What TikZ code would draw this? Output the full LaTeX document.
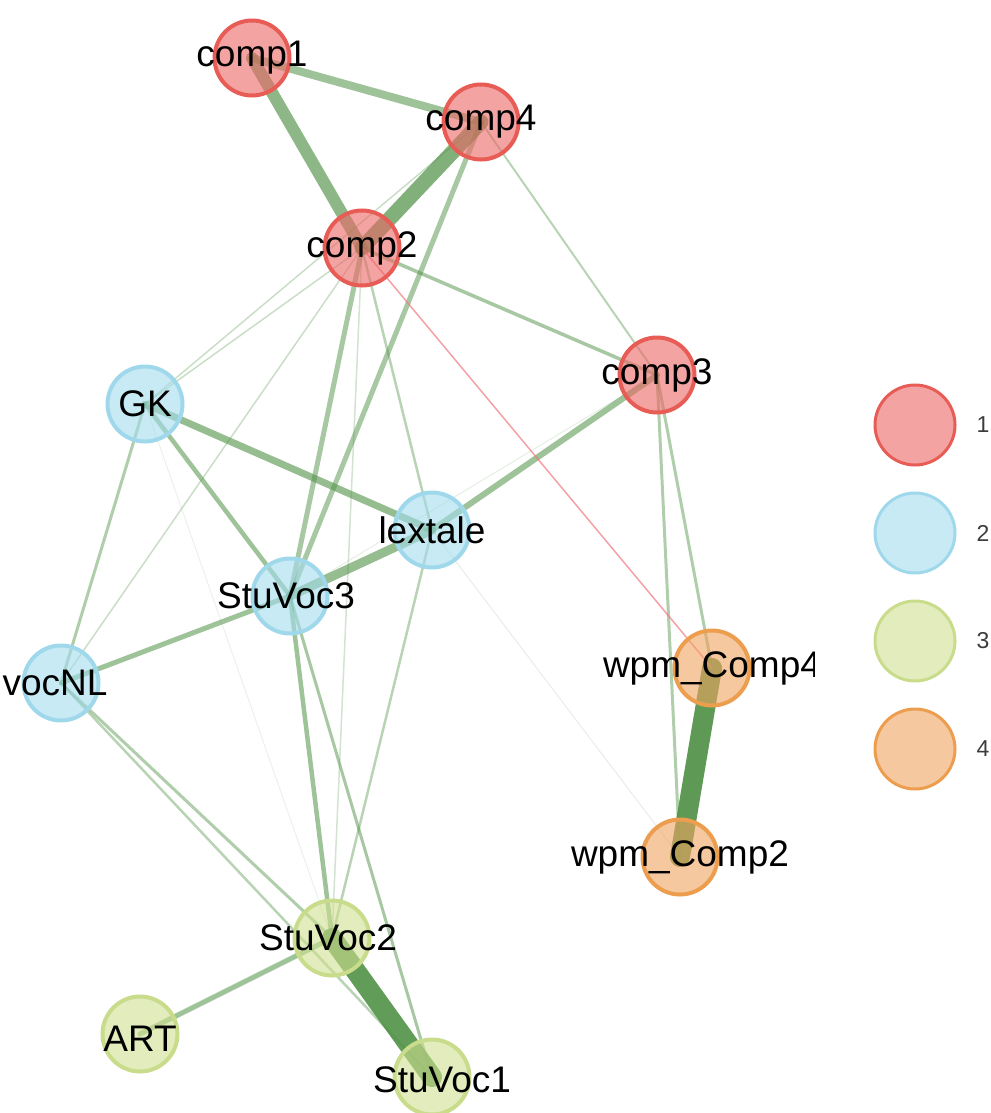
\documentclass[tikz,border=0pt]{standalone}
\usepackage{fontspec}
\setmainfont{Liberation Sans}
\usetikzlibrary{positioning}
\pgfdeclarelayer{bg}
\pgfsetlayers{bg,main}
\definecolor{redfill}{RGB}{237,102,102}
\definecolor{redline}{RGB}{232,92,86}
\definecolor{bluefill}{RGB}{163,220,238}
\definecolor{blueline}{RGB}{160,216,235}
\definecolor{greenfill}{RGB}{207,223,143}
\definecolor{greenline}{RGB}{200,220,140}
\definecolor{orangefill}{RGB}{240,163,97}
\definecolor{orangeline}{RGB}{236,158,78}
\definecolor{edgegreen}{RGB}{80,145,70}
\definecolor{edgepink}{RGB}{240,120,130}
\definecolor{keygray}{RGB}{60,60,60}

\begin{document}
\begin{tikzpicture}[x=1pt, y=-1pt,
	vtx/.style={circle, minimum size=75pt, inner sep=0pt, line width=4pt, fill opacity=0.6},
	grpA/.style={vtx, draw=redline, fill=redfill},
	grpB/.style={vtx, draw=blueline, fill=bluefill},
	grpC/.style={vtx, draw=greenline, fill=greenfill},
	grpD/.style={vtx, draw=orangeline, fill=orangefill},
	lbl/.style={font=\fontsize{37}{40}\selectfont, text=black, inner sep=0pt, fill opacity=1, text opacity=1},
	key/.style={font=\fontsize{23}{25}\selectfont, text=keygray, inner sep=0pt, fill opacity=1, text opacity=1},
	edge/.style={draw=edgegreen, line cap=round}]
	\useasboundingbox (0,0) rectangle (990,1113);
	
	% Group 1
	\node[grpA, label={[lbl]center:comp1}] (c1) at (252,58) {};
	\node[grpA, label={[lbl]center:comp4}] (c4) at (481,122) {};
	\node[grpA, label={[lbl]center:comp2}] (c2) at (362,248) {};
	\node[grpA, label={[lbl]center:comp3}] (c3) at (657,375) {};
	% Group 2
	\node[grpB, label={[lbl]center:GK}] (gk) at (145,404) {};
	\node[grpB, label={[lbl]center:lextale}] (lex) at (432,530) {};
	\node[grpB, label={[lbl, xshift=-4]center:StuVoc3}] (sv3) at (290,596) {};
	\node[grpB, label={[lbl, xshift=-6]center:vocNL}] (vnl) at (61,683) {};
	% Group 3
	\node[grpC, label={[lbl, xshift=-4]center:StuVoc2}] (sv2) at (332,938) {};
	\node[grpC, label={[lbl, yshift=-5]center:ART}] (art) at (140,1034) {};
	\node[grpC, label={[lbl, xshift=10, yshift=-3]center:StuVoc1}] (sv1) at (432,1077) {};
	% Group 4
	\begin{scope}
		\clip (0,0) rectangle (814,1113);
		\node[grpD, label={[lbl]center:wpm\_Comp4}] (wp4) at (712,668) {};
	\end{scope}
	\node[grpD, label={[lbl]center:wpm\_Comp2}] (wp2) at (680,857) {};
	
	% Edges
	\begin{pgfonlayer}{bg}
		\foreach \a/\b/\w/\o in {c1/c2/12/.65, c1/c4/8/.55, c2/c4/15/.72, c2/c3/3.5/.5,
			c4/c3/2/.4, c4/gk/1.5/.3, c2/gk/1.5/.3, c2/vnl/1.5/.3, c2/sv3/5/.5,
			c2/lex/2.5/.4, c2/sv2/1.5/.25, c4/sv3/5/.5, gk/lex/7/.6, gk/sv3/4.5/.55,
			gk/vnl/3/.45, gk/sv2/1/.12, vnl/sv3/5/.55, vnl/sv2/3/.45, vnl/sv1/2.5/.4,
			sv3/lex/9/.6, sv3/sv2/4.5/.55, sv3/sv1/3/.5, sv3/c3/1/.15, lex/sv2/2.5/.4,
			lex/c3/6/.55, lex/wp2/1/.15, c3/wp4/3/.45, c3/wp2/3/.45,
			wp4/wp2/20/.92, sv2/sv1/20/.9, art/sv2/5/.55}
		{
			\draw[edge, line width=\w, draw opacity=\o] (\a.center) -- (\b.center);
		}
		\draw[draw=edgepink, line width=1.5, draw opacity=.7] (c2.center) -- (wp4.center);
	\end{pgfonlayer}
	
	% Legend
	\foreach \g [count=\i] in {grpA,grpB,grpC,grpD}
	{
		\node[\g, minimum size=80pt, line width=3pt, label={[key, label distance=20pt]right:\i}] (key\i) at (915,{425+108*(\i-1)}) {};
	}
	
\end{tikzpicture}
\end{document}
